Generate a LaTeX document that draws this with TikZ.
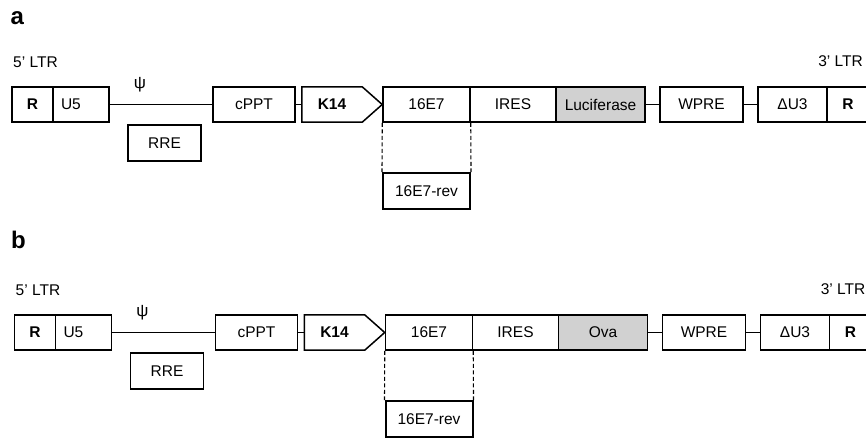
\documentclass[tikz,border=0pt]{standalone}
\usepackage{fontspec}
\setmainfont{Liberation Sans}
\tikzset{
  seg/.style={draw, line width=1.5pt, minimum height=35pt, inner sep=0pt,
    font=\fontsize{15.5}{18}\selectfont},
  boldseg/.style={seg, font=\fontsize{15.5}{18}\selectfont\bfseries},
  link/.style={line width=1.5pt},
  guide/.style={line width=1.1pt, dash pattern=on 4pt off 2.5pt},
  ltr/.style={inner sep=0pt, anchor=base west, font=\fontsize{15.5}{18}\selectfont},
  panelletter/.style={inner sep=0pt, anchor=base west, font=\fontsize{24}{24}\selectfont\bfseries},
  genefill/.style={fill=black!18},
}
\newcommand{\vectorpanel}[1]{%
  \node[ltr] (ltr5) at (13,67) {5' LTR};
  \node[ltr, anchor=base east] (ltr3) at (863,66) {3' LTR};
  \node[boldseg, minimum width=41pt] (r5) at (32.5,104.5) {R};
  \node[seg, text width=40pt, inner xsep=8pt, align=left] (u5) at (81,104.5) {U5};
  \node[inner sep=0pt, font=\fontsize{17}{17}\selectfont] (psi) at (140,84.5) {ψ};
  \node[seg, minimum width=73pt, minimum height=36pt] (rre) at (164.5,143) {RRE};
  \node[seg, minimum width=82pt] (cppt) at (254,104.5) {cPPT};
  \node[minimum width=60pt, minimum height=35pt, inner sep=0pt,
        font=\fontsize{15.5}{18}\selectfont\bfseries] (k14) at (332,104.5) {K14};
  \coordinate (k14tip) at ([xshift=20pt]k14.east);
  \draw[link] (k14.north west) -- (k14.north east) -- (k14tip)
     -- (k14.south east) -- (k14.south west) -- cycle;
  \node[seg, minimum width=87pt] (e7) at (426.5,104.5) {16E7};
  \node[seg, minimum width=86pt] (ires) at (513,104.5) {IRES};
  \node[seg, genefill, minimum width=89pt] (gene) at (600.5,104.5) {#1};
  \node[seg, minimum width=83pt] (wpre) at (701.5,104.5) {WPRE};
  \node[seg, minimum width=69pt] (du3) at (792.5,104.5) {ΔU3};
  \node[boldseg, minimum width=42pt] (r3) at (848,104.5) {R};
  \node[seg, line width=2pt, minimum width=87pt, minimum height=36pt] (rev) at (426.5,191) {16E7-rev};
  \draw[link] (u5.east) -- (cppt.west);
  \draw[link] (cppt.east) -- (k14.west);
  \draw[link] (gene.east) -- (wpre.west);
  \draw[link] (wpre.east) -- (du3.west);
  \draw[guide] (e7.south west) -- (rev.north west);
  \draw[guide] (e7.south east) -- (rev.north east);
}
\begin{document}
\begin{tikzpicture}[x=1pt, y=-1pt]
  \fill[white] (0,0) rectangle (866,437);
  \useasboundingbox (0,0) rectangle (866,437);
  \node[panelletter] (labela) at (10.5,24.5) {a};
  \node[panelletter] (labelb) at (11,248.5) {b};
  \begin{scope}[name prefix=a-]
    \vectorpanel{Luciferase}
  \end{scope}
  \begin{scope}[shift={(2.5,228)}, name prefix=b-]
    \vectorpanel{Ova}
  \end{scope}
\end{tikzpicture}
\end{document}
